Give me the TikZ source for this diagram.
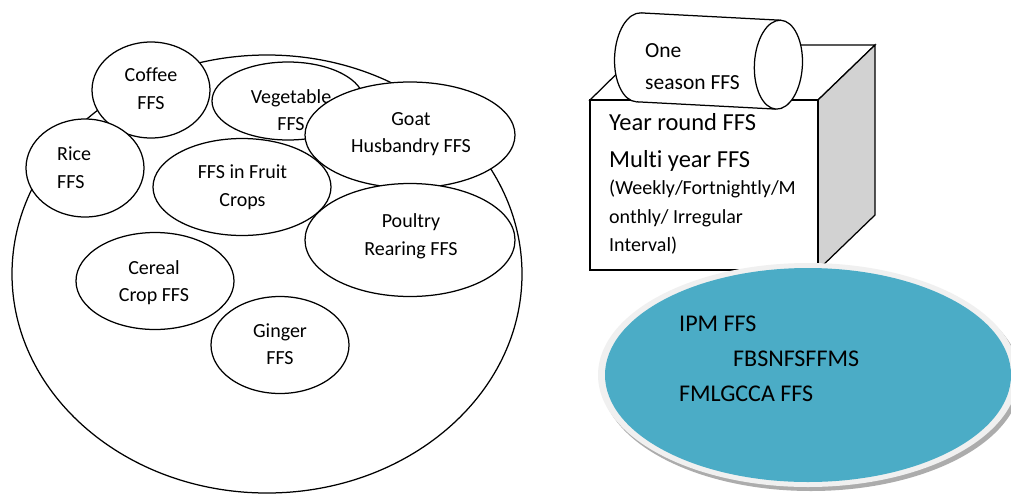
\documentclass[tikz,border=0pt]{standalone}
\usepackage{fontspec}
\setmainfont{Carlito}[Ligatures={NoCommon}]
\usetikzlibrary{shapes.geometric}
\definecolor{tealfill}{HTML}{4BACC6}
\begin{document}
\begin{tikzpicture}[x=1pt,y=-1pt,
  lw/.style={line width=1.25pt},
  ell/.style={ellipse,draw,fill=white,line width=1.25pt,inner sep=0pt},
  lbl/.style={font=\fontsize{20}{27.6}\selectfont,align=center,inner sep=0pt},
  big/.style={font=\fontsize{24.5}{30}\selectfont,inner sep=0pt,anchor=base west},
  small/.style={font=\fontsize{20}{27}\selectfont,inner sep=0pt,anchor=base west},
  cyl/.style={font=\fontsize{21.5}{28}\selectfont,inner sep=0pt,anchor=base west},
  tl/.style={font=\fontsize{24}{30}\selectfont,inner sep=0pt,anchor=base west}]
\clip (0,0) rectangle (1011,493);
\fill[white] (0,0) rectangle (1011,493);

% left group
\node[ell,minimum width=510pt,minimum height=438pt] (outer) at (267,274) {};
\node[ell,minimum width=152pt,minimum height=78pt] (veg) at (288,101) {};
\node[lbl] (vegt) at (291,110) {Vegetable\\FFS};
\node[ell,minimum width=118pt,minimum height=96pt] (coffee) at (151,90) {};
\node[lbl] (coffeet) at (151,89) {Coffee\\FFS};
\node[ell,minimum width=118pt,minimum height=98pt] (rice) at (85,168) {};
\node[lbl,align=left,anchor=west] (ricet) at (57,167.5) {Rice\\FFS};
\node[ell,minimum width=210pt,minimum height=106pt] (goat) at (410,135) {};
\node[lbl] (goatt) at (411,134) {Goat\\Husbandry FFS};
\node[ell,minimum width=178pt,minimum height=97pt] (fruit) at (242,187) {};
\node[lbl] (fruitt) at (242.5,187.5) {FFS in Fruit\\Crops};
\node[ell,minimum width=210pt,minimum height=113pt] (poultry) at (410,240) {};
\node[lbl] (poultryt) at (411,236) {Poultry\\Rearing FFS};
\node[ell,minimum width=158pt,minimum height=97pt] (cereal) at (155,281) {};
\node[lbl] (cerealt) at (154,282.5) {Cereal\\Crop FFS};
\node[ell,minimum width=138pt,minimum height=97pt] (ginger) at (280,345) {};
\node[lbl] (gingert) at (280,344) {Ginger\\FFS};

% cube
\draw[lw,fill=white] (590,100) -- (646,45) -- (875,45) -- (818,100) -- cycle;
\draw[lw,fill=gray!35] (818,100) -- (875,45) -- (875,215) -- (818,270) -- cycle;
\draw[lw,fill=white] (590,100) rectangle (818,270);
\node[big] (yr) at (609,130.7) {Year round FFS};
\node[big] (my) at (609,167.5) {Multi year FFS};
\node[small] (w1) at (609,194.6) {(Weekly/Fortnightly/M};
\node[small] (w2) at (609,223.6) {onthly/ Irregular};
\node[small] (w3) at (609,251.2) {Interval)};

% cylinder
\begin{scope}[shift={(708.5,61)},rotate=-3]
  \draw[lw,fill=white] (-70,0) ellipse[x radius=24,y radius=44.5];
  \fill[white] (-70,-44.5) rectangle (70,44.5);
  \draw[lw] (-70,-44.5) -- (70,-44.5);
  \draw[lw] (-70,44.5) -- (70,44.5);
  \draw[lw,fill=white] (70,0) ellipse[x radius=24,y radius=44.5];
\end{scope}
\node[cyl] (one) at (645,57) {One};
\node[cyl] (season) at (645,89.3) {season FFS};

% teal ellipse
\fill[gray!65] (811,379) ellipse[x radius=210,y radius=112];
\fill[gray!12] (808,375) ellipse[x radius=210,y radius=112];
\fill[tealfill] (808,375) ellipse[x radius=203,y radius=107];
\node[tl] (ipm) at (679,331.7) {IPM FFS};
\node[tl] (fbs) at (733,366.7) {FBSNFSFFMS};
\node[tl] (fml) at (679,401.7) {FMLGCCA FFS};
\end{tikzpicture}
\end{document}
